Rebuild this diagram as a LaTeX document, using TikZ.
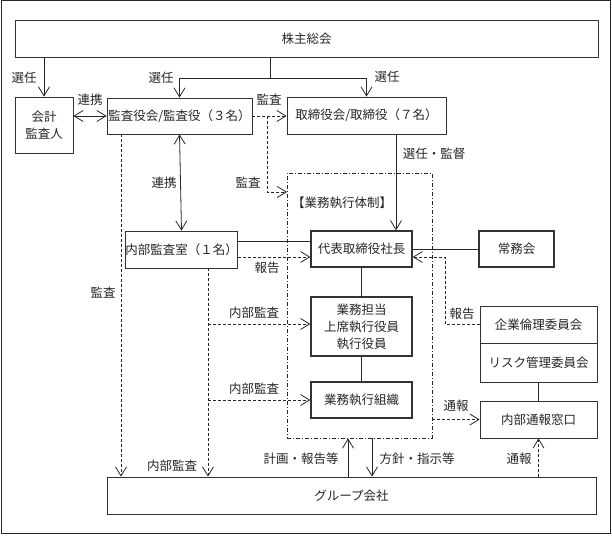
\documentclass[tikz,border=0pt]{standalone}
\usepackage{fontspec}
\setmainfont{Noto Sans CJK JP}
\usetikzlibrary{arrows.meta}
\begin{document}
\begin{tikzpicture}[x=1pt,y=-1pt,
  every node/.style={font=\fontsize{12.5}{17}\selectfont, text=black!85},
  box/.style={draw=black!80, line width=0.8pt, rectangle, inner sep=0pt, align=center},
  tbox/.style={box, line width=1.4pt},
  ln/.style={draw=black!85, line width=0.8pt},
  arr/.style={ln, -{Straight Barb[length=9pt,width=11pt]}},
  arrb/.style={ln, {Straight Barb[length=9pt,width=11pt]}-{Straight Barb[length=9pt,width=11pt]}},
  dsh/.style={dash pattern=on 3pt off 2pt},
  lbl/.style={inner sep=1pt}
]
\useasboundingbox (0,0) rectangle (612,535);
\draw[ln, line width=1pt] (1,1) rectangle (610,533);

% boxes
\node[box, minimum width=583pt, minimum height=37pt] (kabu) at (306.5,38.5) {株主総会};
\node[box, minimum width=58pt, minimum height=56pt] (kaikei) at (44,125) {会計\\監査人};
\node[box, minimum width=145pt, minimum height=36pt] (kansa) at (179.5,116) {監査役会/監査役（３名）};
\node[box, minimum width=159pt, minimum height=37pt] (tori) at (366.5,115.5) {取締役会/取締役（７名）};
\node[draw=black!85, line width=0.8pt, dash pattern=on 4pt off 2pt on 1pt off 2pt, minimum width=145pt, minimum height=265pt, inner sep=0pt] (frame) at (359.5,305.5) {};
\node[tbox, minimum width=101pt, minimum height=36pt] (daihyo) at (361.5,249) {代表取締役社長};
\node[tbox, minimum width=75pt, minimum height=36pt] (jomu) at (516.5,249) {常務会};
\node[box, minimum width=107pt, minimum height=37pt] (naibu) at (181.5,249.5) {内部監査室（１名）};
\node[tbox, minimum width=101pt, minimum height=59pt] (gyomu) at (361.5,326.5) {業務担当\\上席執行役員\\執行役員};
\node[tbox, minimum width=101pt, minimum height=36pt] (soshiki) at (361.5,400) {業務執行組織};
\node[box, minimum width=117pt, minimum height=37pt] (rinri) at (538.5,324.5) {企業倫理委員会};
\node[box, minimum width=117pt, minimum height=39pt] (risk) at (538.5,362.5) {リスク管理委員会};
\node[box, minimum width=117pt, minimum height=37pt] (tsuho) at (538.5,419.5) {内部通報窓口};
\node[box, minimum width=489pt, minimum height=37pt] (group) at (351.5,495.5) {グループ会社};

% helper coordinates
\coordinate (j) at (270,78);
\coordinate (k1) at (267,116);
\coordinate (k2) at (287,192);
\coordinate (c396) at (396,0);
\coordinate (kx) at (121,0);
\coordinate (nx) at (208,0);
\coordinate (b1) at (208,324);
\coordinate (b2) at (208,400);
\coordinate (rx) at (445,0);
\coordinate (p1) at (348,0);
\coordinate (p2) at (372,0);
\coordinate (y241) at (0,241);
\coordinate (y257) at (0,257);

% 選任
\draw[arr] (kabu.south -| kaikei) -- (kaikei.north);
\draw[ln] (kabu.south -| j) -- (j);
\draw[arr] (j) -| (kansa.north);
\draw[arr] (j) -| (tori.north);
% 連携 / 監査 top row
\draw[arrb] (kaikei.east |- kansa.west) -- (kansa.west);
\draw[arr, dsh] (kansa.east) -- (tori.west |- kansa.east);
\draw[arr, dsh] (k1) |- (k2);
% 選任・監督
\draw[arr] (tori.south -| c396) -- (daihyo.north -| c396);
% 連携 vertical
\draw[arrb] (kansa.south) -- (naibu.north);
% 内部監査室 -> 代表
\draw[ln] (naibu.east |- y241) -- (daihyo.west |- y241);
\draw[arr, dsh] (naibu.east |- y257) -- (daihyo.west |- y257);
% 代表 - 常務会
\draw[ln] (daihyo.east) -- (jomu.west);
\draw[ln] (daihyo.south) -- (gyomu.north);
\draw[ln] (gyomu.south) -- (soshiki.north);
% 監査 down
\draw[arr, dsh] (kansa.south -| kx) -- (group.north -| kx);
\draw[arr, dsh] (naibu.south -| nx) -- (group.north -| nx);
\draw[arr, dsh] (b1) -- (gyomu.west |- b1);
\draw[arr, dsh] (b2) -- (soshiki.west |- b2);
% 報告 from 企業倫理
\draw[arr, dsh] (rinri.west) -| (rx |- y257) -- (daihyo.east |- y257);
% committees
\draw[ln] (risk.south) -- (tsuho.north);
\draw[arr, dsh] (frame.east |- tsuho.west) -- (tsuho.west);
\draw[arr, dsh] (group.north -| tsuho.south) -- (tsuho.south);
% group
\draw[arr] (group.north -| p1) -- (frame.south -| p1);
\draw[arr] (frame.south -| p2) -- (group.north -| p2);

% labels
\node[lbl] (l1) at (24,78) {選任};
\node[lbl] (l2) at (161,78) {選任};
\node[lbl] (l3) at (387,77) {選任};
\node[lbl] (l4) at (90,100) {連携};
\node[lbl] (l5) at (269,100) {監査};
\node[lbl] (l6) at (434,154) {選任・監督};
\node[lbl] (l7) at (164,183) {連携};
\node[lbl] (l8) at (248,183) {監査};
\node[lbl] (l9) at (342,203) {【業務執行体制】};
\node[lbl] (l10) at (267,268) {報告};
\node[lbl] (l11) at (103,293) {監査};
\node[lbl] (l12) at (254,313) {内部監査};
\node[lbl] (l13) at (462,314) {報告};
\node[lbl] (l14) at (254,389) {内部監査};
\node[lbl] (l15) at (456,406) {通報};
\node[lbl] (l16) at (172,466) {内部監査};
\node[lbl] (l17) at (301,459) {計画・報告等};
\node[lbl] (l18) at (417,459) {方針・指示等};
\node[lbl] (l19) at (519,459) {通報};
\end{tikzpicture}
\end{document}
